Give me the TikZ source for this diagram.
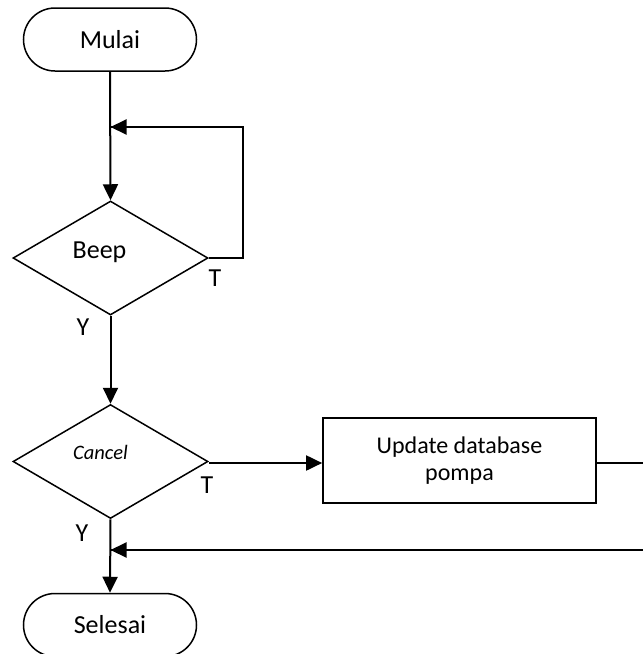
\documentclass[tikz,border=0pt]{standalone}
\usepackage{fontspec}
\setmainfont{Carlito}
\usetikzlibrary{shapes.geometric,shapes.misc,arrows.meta,calc}
\begin{document}
\begin{tikzpicture}[x=1pt,y=-1pt,
  terminal/.style={rounded rectangle, draw, line width=1.5pt, minimum width=173pt, minimum height=63pt, inner sep=0pt, font=\fontsize{26}{30}\selectfont},
  decision/.style={diamond, draw, line width=1.5pt, minimum width=195pt, minimum height=114pt, inner sep=0pt, aspect=1.7},
  process/.style={rectangle, draw, line width=1.7pt, minimum width=273pt, minimum height=85pt, inner sep=0pt, align=center, font=\fontsize{24}{27}\selectfont},
  arr/.style={line width=2pt, -{Triangle[length=16pt,width=15pt]}},
  ln/.style={line width=2pt},
  lbl/.style={font=\fontsize{26}{30}\selectfont, inner sep=0pt}]
\clip (0,0) rectangle (643,654);
\fill[white] (0,0) rectangle (643,654);
\node[terminal] (mulai) at (110,39.5) {Mulai};
\node[decision, label={[font=\fontsize{26}{30}\selectfont, xshift=-11pt, yshift=6pt]center:Beep}] (beep) at (110.5,258) {};
\node[decision, label={[font=\fontsize{20.5}{24}\selectfont\itshape, xshift=-10pt, yshift=9pt]center:Cancel}] (cancel) at (110.5,461.5) {};
\node[process] (update) at (459.5,460.5) {Update database\\pompa};
\node[terminal] (selesai) at (110,625) {Selesai};
\coordinate (loopin) at (110.5,127);
\coordinate (retin) at (110.5,550);
\draw[arr] (mulai.south) -- (beep.north);
\draw[ln] (beep.east) -- ++(34,0) |- (loopin);
\draw[arr] ($(beep.east)+(34,-131)$) -- (loopin);
\draw[arr] (beep.south) -- (cancel.north);
\draw[arr] ($(cancel.east)+(0,1.5)$) -- ($(update.west)+(0,2.5)$);
\draw[ln] ($(update.east)+(0,2.5)$) -- ++(70,0) |- (retin);
\draw[arr] ($(update.east)+(70,89.5)$) -- (retin);
\draw[arr] (cancel.south) -- (selesai.north);
\node[lbl] (t1) at (215,278) {T};
\node[lbl] (y1) at (83,327) {Y};
\node[lbl] (t2) at (207,485) {T};
\node[lbl] (y2) at (82,533) {Y};
\end{tikzpicture}
\end{document}
